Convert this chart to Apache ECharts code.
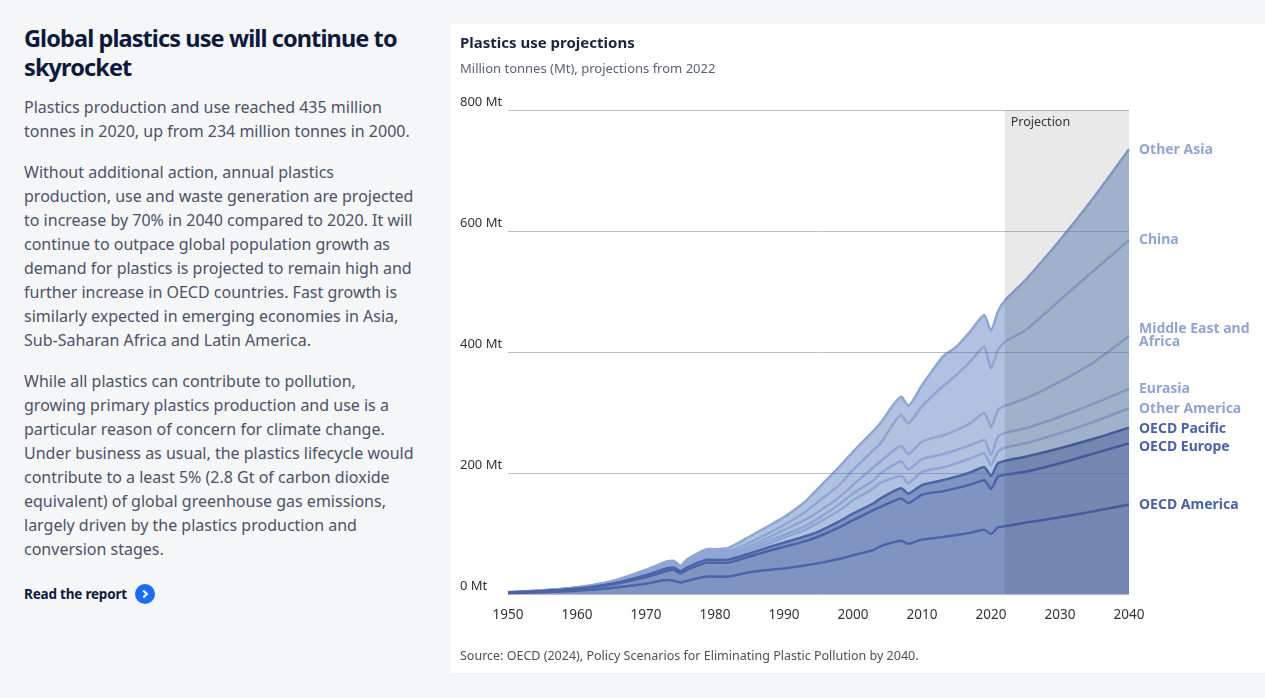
<!DOCTYPE html>
<html>
<head>
<meta charset="utf-8">
<script src="https://cdn.jsdelivr.net/npm/echarts@6/dist/echarts.min.js"></script>
<style>
  html, body { margin: 0; padding: 0; }
  body { width: 1265px; height: 698px; background: #f5f6f8; overflow: hidden; position: relative; font-family: "Noto Sans", "Open Sans", sans-serif; }
  #left { position: absolute; left: 24px; top: 0; width: 410px; }
  #left h1 { position: absolute; top: 24px; left: 0; margin: 0; font-size: 23.5px; line-height: 29px; font-weight: 700; color: #0c1a3d; white-space: nowrap; letter-spacing: -0.9px; }
  #left p { position: absolute; left: 0; margin: 0; font-size: 16px; line-height: 24px; color: #4b5268; white-space: nowrap; }
  #p1 { top: 95px; }
  #p2 { top: 160px; }
  #p3 { top: 369px; }
  #read { position: absolute; left: 0; top: 582px; height: 24px; display: flex; align-items: center; font-size: 13.5px; font-weight: 700; color: #0c1a3d; white-space: nowrap; letter-spacing: -0.2px; }
  #read .ic { display: inline-block; width: 20px; height: 20px; border-radius: 50%; background: #1a6ef5; margin-left: 8px; position: relative; }
  #read .ic:after { content: ""; position: absolute; left: 6px; top: 7px; width: 4px; height: 4px; border-right: 2px solid #fff; border-top: 2px solid #fff; transform: rotate(45deg); }
  #chart { position: absolute; left: 450px; top: 24px; width: 815px; height: 649px; background: #ffffff; }
</style>
</head>
<body>
<div id="left">
  <h1>Global plastics use will continue to<br>skyrocket</h1>
  <p id="p1">Plastics production and use reached 435 million<br>tonnes in 2020, up from 234 million tonnes in 2000.</p>
  <p id="p2">Without additional action, annual plastics<br>production, use and waste generation are projected<br>to increase by 70% in 2040 compared to 2020. It will<br>continue to outpace global population growth as<br>demand for plastics is projected to remain high and<br>further increase in OECD countries. Fast growth is<br>similarly expected in emerging economies in Asia,<br>Sub-Saharan Africa and Latin America.</p>
  <p id="p3">While all plastics can contribute to pollution,<br>growing primary plastics production and use is a<br>particular reason of concern for climate change.<br>Under business as usual, the plastics lifecycle would<br>contribute to a least 5% (2.8 Gt of carbon dioxide<br>equivalent) of global greenhouse gas emissions,<br>largely driven by the plastics production and<br>conversion stages.</p>
  <div id="read">Read the report<span class="ic"></span></div>
</div>
<div id="chart"></div>
<script>
// ---- Data (million tonnes per region) ----
const years = [1950,1955,1960,1965,1970,1973,1974,1975,1976,1979,1980,1982,1985,1988,1990,1993,1995,1998,2000,2003,2004,2007,2008,2010,2013,2015,2017,2019,2020,2021,2022,2025,2030,2035,2040];

const oecdAmerica = [1.5,3,5.5,10,17,23,22,19,22,29,28.5,29,36,40,42,47,51,58,64,73,79,88,83,90,94,97.5,101,106,99,110,112,118,127,137,148];
const oecdEurope  = [0.7,1.5,2.5,5.5,11,15,18,15,18,23,23,23,26,32,36,40,44,52,58,66,65,70,67,74,76,77.5,80,82,75,84,85,84,89,95.5,101];
const oecdPacific = [0.2,0.5,1,1.5,3,4.5,4,3.5,4.5,5,5,5,5,6,7,8,8,10,11,11,14,17,16,16,18,19,20,22,21,22,23,25,25,24.5,26];
const otherAmerica= [0.1,0.2,0.5,1,2.5,3,3,2.5,3.5,4.5,4.5,4,4.6,6,8,11,15,18,22,25,26,20,17,22,21,22,23,22.5,18,19,22,22,25,28,32];
const eurasia     = [0.1,0.3,0.5,1,2.5,3,3,2.5,3,4,4,4,3.9,5,4.5,6,7,10,11,13,15.5,24,23,21,22,22,22,22,17,25,24,25,27,30,32];
const middleEastAfrica = [0.1,0.2,0.3,0.7,1.5,2,2,1.5,2.5,3.5,3.5,3.5,3.5,6,8.5,10,11,12,14,22,19.5,26,25,29,31,33,36,44.5,46,44,45,49,58,69,88];
const china       = [0.1,0.1,0.3,0.6,1.2,1.5,1.5,1,2,2.5,2.5,3,6,7,8,13,17,20,25,28,30,51,51,58,81,91,102,110,97,99,106,113,135,151.5,158];
const otherAsia   = [0.2,0.2,0.4,0.7,1.3,2,1.5,1.5,2,3,3,5,10,12,13,17,22,30,30,32,34,30,29,35,49,47,50,52,62,64,68,83,99,121.5,150];

const seriesNames = ['OECD America','OECD Europe','OECD Pacific','Other America','Eurasia','Middle East and Africa','China','Other Asia'];
const seriesValues = [oecdAmerica, oecdEurope, oecdPacific, otherAmerica, eurasia, middleEastAfrica, china, otherAsia];
const labelTexts = ['OECD America','OECD Europe','OECD Pacific','Other America','Eurasia','Middle East and\nAfrica','China','Other Asia'];

const yTicks = [0, 200, 400, 600, 800];
const xTicks = [1950, 1960, 1970, 1980, 1990, 2000, 2010, 2020, 2030, 2040];
const projectionStart = 2022;
const projectionEnd = 2040;

// ---- Styles ----
const FONT = '"Noto Sans", "Open Sans", sans-serif';
const DARK_LINE = '#4b64a9', DARK_FILL = '#7f94c1', DARK_LABEL = '#4a62a8';
const LIGHT_LINE = '#8ea6d3', LIGHT_FILL = '#b0c2e0', LIGHT_LABEL = '#8fa6d4';
const labelOffsets = [[0, 1], [0, 4], [0, 1], [0, 1], [0, 0], [0, 0], [0, 0], [0, 1]];

// stacked (cumulative) totals built from the per-region arrays
const cumulative = [];
seriesValues.forEach((vals, i) => {
  cumulative.push(vals.map((v, k) => v + (i > 0 ? cumulative[i - 1][k] : 0)));
});

const chart = echarts.init(document.getElementById('chart'), null, { renderer: 'canvas' });

const series = seriesNames.map((name, i) => {
  const isOecd = i < 3;
  return {
    name: name,
    type: 'line',
    z: 12 - i,
    data: years.map((y, k) => [y, cumulative[i][k]]),
    showSymbol: false,
    symbol: 'none',
    smooth: 0.2,
    lineStyle: { width: 2.5, color: isOecd ? DARK_LINE : LIGHT_LINE },
    areaStyle: { color: isOecd ? DARK_FILL : LIGHT_FILL, opacity: 1, origin: 'start' },
    itemStyle: { color: isOecd ? DARK_LINE : LIGHT_LINE },
    endLabel: {
      show: true,
      formatter: labelTexts[i],
      distance: 10,
      offset: labelOffsets[i],
      color: isOecd ? DARK_LABEL : LIGHT_LABEL,
      fontFamily: FONT,
      fontWeight: 'bold',
      fontSize: 14,
      lineHeight: 13
    }
  };
});

// projection overlay band (drawn above the areas)
series.push({
  name: 'projection',
  type: 'line',
  z: 15,
  data: [],
  silent: true,
  markArea: {
    silent: true,
    z: 15,
    itemStyle: { color: 'rgba(0,0,0,0.085)' },
    label: {
      show: true,
      position: 'insideTopLeft',
      distance: 6,
      color: '#333',
      fontFamily: FONT,
      fontSize: 12.5
    },
    data: [[
      { name: 'Projection', xAxis: projectionStart, yAxis: yTicks[yTicks.length - 1] },
      { xAxis: projectionEnd, yAxis: yTicks[0] }
    ]]
  }
});

chart.setOption({
  animation: false,
  textStyle: { fontFamily: FONT },
  title: [
    { text: 'Plastics use projections', left: 10, top: 10, padding: 0,
      textStyle: { fontFamily: FONT, fontSize: 15, fontWeight: 'bold', color: '#1a2340', lineHeight: 20 } },
    { text: 'Million tonnes (Mt), projections from 2022', left: 10, top: 36, padding: 0,
      textStyle: { fontFamily: FONT, fontSize: 13, fontWeight: 'normal', color: '#5a6278', lineHeight: 18 } },
    { text: 'Source: OECD (2024), Policy Scenarios for Eliminating Plastic Pollution by 2040.', left: 10, top: 624, padding: 0,
      textStyle: { fontFamily: FONT, fontSize: 12.5, fontWeight: 'normal', color: '#4a4f5c', lineHeight: 16 } }
  ],
  grid: { left: 58, right: 136, top: 86, bottom: 79, containLabel: false },
  xAxis: {
    type: 'value',
    min: xTicks[0],
    max: xTicks[xTicks.length - 1],
    interval: 10,
    axisLine: { show: false },
    axisTick: { show: false },
    splitLine: { show: false },
    axisLabel: { color: '#333', fontSize: 13.5, fontFamily: FONT, margin: 14, formatter: v => String(v) }
  },
  yAxis: {
    type: 'value',
    min: yTicks[0],
    max: yTicks[yTicks.length - 1],
    interval: 200,
    z: 20,
    axisLine: { show: false },
    axisTick: { show: false },
    splitLine: { show: true, lineStyle: { color: 'rgba(90,110,150,0.45)', width: 1 } },
    axisLabel: {
      color: '#333', fontSize: 13, fontFamily: FONT,
      margin: 48, align: 'left', verticalAlign: 'bottom', padding: [0, 0, 1, 0],
      formatter: '{value} Mt'
    }
  },
  series: series
});
</script>
</body>
</html>
